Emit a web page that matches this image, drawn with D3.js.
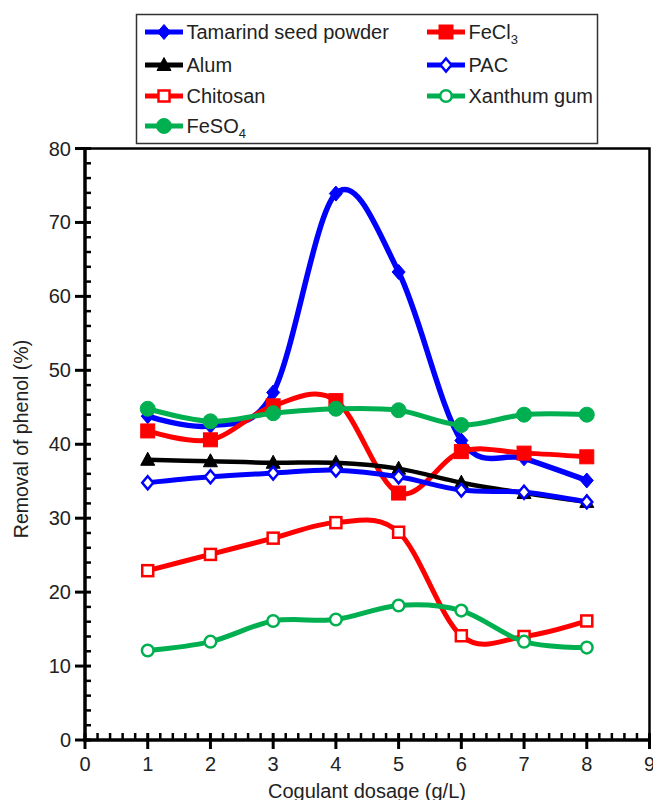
<!DOCTYPE html>
<html>
<head>
<meta charset="utf-8">
<script src="https://cdn.jsdelivr.net/npm/d3@7"></script>
<style>
  html, body { margin: 0; padding: 0; background: #fff; }
  svg { display: block; font-family: "Liberation Sans", Arial, sans-serif; }
</style>
</head>
<body>
<svg id="chart" width="653" height="800"></svg>
<script>
// Coagulant dosage (g/L)
const dosage = [1, 2, 3, 4, 5, 6, 7, 8];

// Phenol removal (%) per coagulant
const tamarind = [43.8, 42.5, 47.0, 73.9, 63.3, 40.5, 38.1, 35.1];
const fecl3    = [41.8, 40.6, 45.2, 45.9, 33.4, 39.0, 38.8, 38.3];
const alum     = [37.9, 37.7, 37.5, 37.5, 36.7, 34.8, 33.4, 32.2];
const pac      = [34.8, 35.6, 36.1, 36.5, 35.6, 33.8, 33.5, 32.2];
const chitosan = [22.9, 25.1, 27.3, 29.4, 28.1, 14.1, 14.0, 16.1];
const xanthum  = [12.1, 13.3, 16.1, 16.3, 18.2, 17.5, 13.3, 12.5];
const feso4    = [44.8, 43.1, 44.2, 44.8, 44.6, 42.6, 44.0, 44.0];

const xTicks = [0, 1, 2, 3, 4, 5, 6, 7, 8, 9];
const yTicks = [0, 10, 20, 30, 40, 50, 60, 70, 80];

const series = [
  { name: "Tamarind seed powder", values: tamarind, color: "#0000ff", shape: "diamond", filled: true,  width: 5.5 },
  { name: "FeCl", sub: "3",       values: fecl3,    color: "#ff0000", shape: "square",  filled: true,  width: 5 },
  { name: "Alum",                 values: alum,     color: "#000000", shape: "triangle",filled: true,  width: 4.5 },
  { name: "PAC",                  values: pac,      color: "#0000ff", shape: "diamond", filled: false, width: 5 },
  { name: "Chitosan",             values: chitosan, color: "#ff0000", shape: "square",  filled: false, width: 5 },
  { name: "Xanthum gum",          values: xanthum,  color: "#00b050", shape: "circle",  filled: false, width: 5 },
  { name: "FeSO", sub: "4",       values: feso4,    color: "#00b050", shape: "circle",  filled: true,  width: 5 }
];

const svg = d3.select("#chart");
const plotL = 85, plotR = 649.5, plotT = 148.5, plotB = 740;
const fs = 20;

const x = d3.scaleLinear().domain([0, 9]).range([plotL, plotR]);
const y = d3.scaleLinear().domain([0, 80]).range([plotB, plotT]);

// Frame (top and right edges)
svg.append("path")
  .attr("d", `M${plotL},${plotT}H${plotR}V${plotB}`)
  .attr("fill", "none").attr("stroke", "#000").attr("stroke-width", 2.5);

// Y axis: minor ticks inside, major ticks crossing
const yAxis = svg.append("g");
yAxis.selectAll("line.minor").data(d3.range(0, 81, 2).filter(v => v % 10 !== 0))
  .join("line").attr("class", "minor")
  .attr("x1", plotL).attr("x2", plotL + 6)
  .attr("y1", d => y(d)).attr("y2", d => y(d))
  .attr("stroke", "#000").attr("stroke-width", 2.5);
yAxis.selectAll("line.major").data(yTicks)
  .join("line").attr("class", "major")
  .attr("x1", plotL - 10).attr("x2", plotL + 6)
  .attr("y1", d => y(d)).attr("y2", d => y(d))
  .attr("stroke", "#000").attr("stroke-width", 3);
yAxis.selectAll("text").data(yTicks)
  .join("text")
  .attr("x", plotL - 14).attr("y", d => y(d) + 7)
  .attr("text-anchor", "end").attr("font-size", fs).attr("fill", "#222")
  .text(d => d);
yAxis.append("line")
  .attr("x1", plotL).attr("x2", plotL).attr("y1", plotT - 1).attr("y2", plotB + 1.5)
  .attr("stroke", "#000").attr("stroke-width", 3.5);

// X axis
const xAxis = svg.append("g");
xAxis.selectAll("line.minor").data(d3.range(0, 9.01, 0.2).filter(v => Math.abs(v - Math.round(v)) > 0.01))
  .join("line").attr("class", "minor")
  .attr("x1", d => x(d)).attr("x2", d => x(d))
  .attr("y1", plotB).attr("y2", plotB - 7)
  .attr("stroke", "#000").attr("stroke-width", 2.5);
xAxis.selectAll("line.major").data(xTicks)
  .join("line").attr("class", "major")
  .attr("x1", d => x(d)).attr("x2", d => x(d))
  .attr("y1", plotB + 9).attr("y2", plotB - 7)
  .attr("stroke", "#000").attr("stroke-width", 3);
xAxis.selectAll("text").data(xTicks)
  .join("text")
  .attr("x", d => x(d)).attr("y", plotB + 31)
  .attr("text-anchor", "middle").attr("font-size", fs).attr("fill", "#222")
  .text(d => d);
xAxis.append("line")
  .attr("x1", plotL - 1.5).attr("x2", plotR).attr("y1", plotB).attr("y2", plotB)
  .attr("stroke", "#000").attr("stroke-width", 3.5);

// Axis titles
svg.append("text")
  .attr("transform", `translate(28,439) rotate(-90)`)
  .attr("text-anchor", "middle").attr("font-size", 19.5).attr("fill", "#222")
  .text("Removal of phenol (%)");
svg.append("text")
  .attr("x", 367).attr("y", 798)
  .attr("text-anchor", "middle").attr("font-size", fs).attr("fill", "#222")
  .text("Cogulant dosage (g/L)");

// Marker drawing
function marker(g, s) {
  const sw = 2.5;
  let el;
  if (s.shape === "diamond") {
    el = g.append("path").attr("d", s.filled ? "M0,-7.5L6.5,0L0,7.5L-6.5,0Z" : "M0,-6.5L5.5,0L0,6.5L-5.5,0Z");
  } else if (s.shape === "square") {
    const h = s.filled ? 7 : 5.5;
    el = g.append("rect").attr("x", -h).attr("y", -h).attr("width", 2 * h).attr("height", 2 * h);
  } else if (s.shape === "triangle") {
    el = g.append("path").attr("d", "M0,-7.5L7,5.5L-7,5.5Z");
  } else {
    el = g.append("circle").attr("r", s.filled ? 7.5 : 5.8);
  }
  if (s.filled) el.attr("fill", s.color).attr("stroke", s.color).attr("stroke-width", 1);
  else el.attr("fill", "#fff").attr("stroke", s.color).attr("stroke-width", sw);
}

const line = d3.line()
  .x((d, i) => x(dosage[i]))
  .y(d => y(d))
  .curve(d3.curveCardinal.tension(0));

series.forEach(s => {
  const g = svg.append("g");
  g.append("path").datum(s.values)
    .attr("d", line)
    .attr("fill", "none").attr("stroke", s.color)
    .attr("stroke-width", s.width).attr("stroke-linejoin", "round");
  s.values.forEach((v, i) => {
    marker(g.append("g").attr("transform", `translate(${x(dosage[i])},${y(v)})`), s);
  });
});

// Legend
const legend = svg.append("g");
legend.append("rect")
  .attr("x", 136.5).attr("y", 14.5).attr("width", 461).attr("height", 129)
  .attr("fill", "#fff").attr("stroke", "#333").attr("stroke-width", 1.5);

const cols = [145, 427];
const rows = [32, 65, 96, 126];
series.forEach((s, i) => {
  const cx = cols[i % 2], cy = rows[Math.floor(i / 2)];
  const item = legend.append("g").attr("transform", `translate(${cx},${cy})`);
  item.append("line").attr("x1", 0).attr("x2", 38).attr("y1", 0).attr("y2", 0)
    .attr("stroke", s.color).attr("stroke-width", 5);
  marker(item.append("g").attr("transform", "translate(19,0)"), s);
  const t = item.append("text").attr("x", 41.5).attr("y", 7)
    .attr("font-size", fs).attr("fill", "#222").text(s.name);
  if (s.sub) {
    t.append("tspan").attr("dy", 5).attr("font-size", 13).text(s.sub);
  }
});
</script>
</body>
</html>
